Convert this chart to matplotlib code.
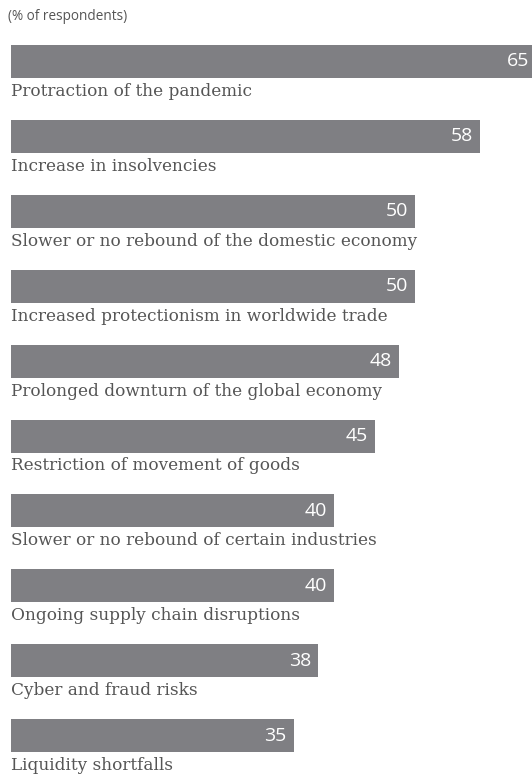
import numpy as np
import matplotlib.pyplot as plt

categories = ["Protraction of the pandemic",
              "Increase in insolvencies",
              "Slower or no rebound of the domestic economy",
              "Increased protectionism in worldwide trade",
              "Prolonged downturn of the global economy",
              "Restriction of movement of goods",
              "Slower or no rebound of certain industries",
              "Ongoing supply chain disruptions",
              "Cyber and fraud risks",
              "Liquidity shortfalls"]
values = [65, 58, 50, 50, 48, 45, 40, 40, 38, 35]
subtitle = "(% of respondents)"

W, H = 532, 776
fig = plt.figure(figsize=(W / 100, H / 100), dpi=100)
left = 11
ax = fig.add_axes([left / W, 0, 1 - left / W, 1])

px_per_unit = 8.08
step = 74.9
first = 61.5
ax.set_xlim(0, (W - left) / px_per_unit)
ax.set_ylim((H - first) / step, -first / step)
ax.axis('off')

y = np.arange(len(values))
bh = 33 / step
ax.barh(y, values, height=bh, color='#7f7f83', clip_on=True)

for i, (c, v) in enumerate(zip(categories, values)):
    ax.annotate(str(v), (v, i), xytext=(-7, 0), textcoords='offset pixels',
                ha='right', va='center', color='white', fontsize=14,
                family='Open Sans', annotation_clip=False)
    ax.annotate(c, (0, i + bh / 2), xytext=(0, -5), textcoords='offset pixels',
                ha='left', va='top', color='#555555', fontsize=12.2,
                family='DejaVu Serif')

fig.text(8 / W, 1 - 17 / H, subtitle, ha='left', va='center',
         color='#555555', fontsize=9.8, family='Open Sans')

fig.savefig('out.png', dpi=100)
